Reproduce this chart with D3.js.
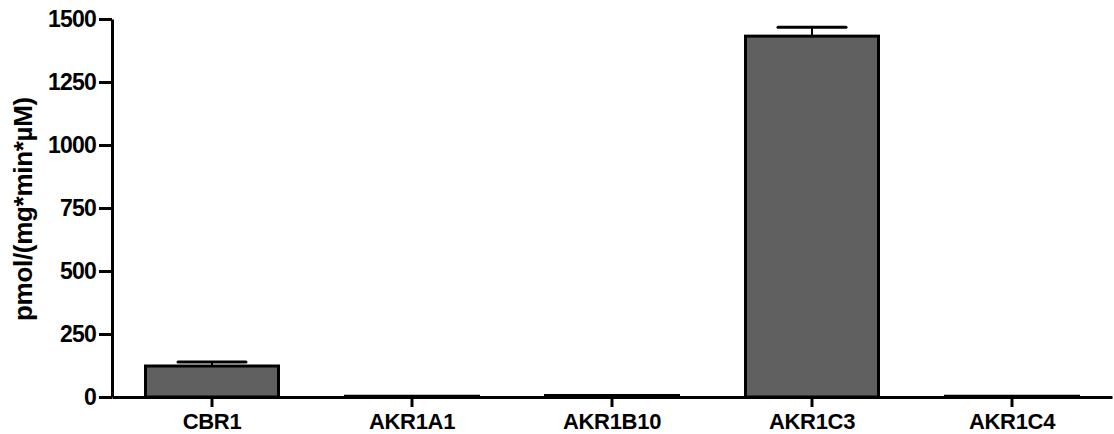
<!DOCTYPE html>
<html>
<head>
<meta charset="utf-8">
<script src="https://cdn.jsdelivr.net/npm/d3@7"></script>
<style>
  body { margin: 0; background: #fff; }
  text { font-family: "Liberation Sans", Arial, sans-serif; font-weight: bold; }
</style>
</head>
<body>
<svg id="chart" width="1114" height="434"></svg>
<script>
// chart data
var enzymes = ["CBR1", "AKR1A1", "AKR1B10", "AKR1C3", "AKR1C4"];
var activity = [123, 3, 6, 1432, 3];
var activityErr = [16, 0, 0, 35, 0];
var yTicks = [0, 250, 500, 750, 1000, 1250, 1500];

var svg = d3.select("#chart");
var width = 1114, height = 434;
var margin = {left: 112, right: 2, top: 19, bottom: 37};

var x = d3.scaleBand()
    .domain(enzymes)
    .range([margin.left, width - margin.right])
    .paddingInner(0.335)
    .paddingOuter(0.1675);

var y = d3.scaleLinear()
    .domain([0, 1500])
    .range([height - margin.bottom, margin.top]);

var rows = enzymes.map(function(name, i) {
    return {name: name, value: activity[i], err: activityErr[i]};
});

// bars
svg.selectAll(".bar")
    .data(rows)
    .enter()
    .append("rect")
    .attr("class", "bar")
    .attr("x", function(d) { return x(d.name); })
    .attr("width", x.bandwidth())
    .attr("y", function(d) { return y(d.value); })
    .attr("height", function(d) { return y(0) - y(d.value); })
    .attr("fill", "#606060")
    .attr("stroke", "#000")
    .attr("stroke-width", 3);

// error bars (upper only)
var errs = svg.selectAll(".err")
    .data(rows.filter(function(d) { return d.err > 0; }))
    .enter()
    .append("g")
    .attr("class", "err");

errs.append("line")
    .attr("x1", function(d) { return x(d.name) + x.bandwidth() / 2; })
    .attr("x2", function(d) { return x(d.name) + x.bandwidth() / 2; })
    .attr("y1", function(d) { return y(d.value); })
    .attr("y2", function(d) { return y(d.value + d.err); })
    .attr("stroke", "#000")
    .attr("stroke-width", 2);

errs.append("line")
    .attr("x1", function(d) { return x(d.name) + x.bandwidth() / 2 - 34; })
    .attr("x2", function(d) { return x(d.name) + x.bandwidth() / 2 + 34; })
    .attr("y1", function(d) { return y(d.value + d.err); })
    .attr("y2", function(d) { return y(d.value + d.err); })
    .attr("stroke", "#000")
    .attr("stroke-width", 3)
    .attr("stroke-linecap", "round");

// y axis
var yAxis = svg.append("g")
    .attr("transform", "translate(" + margin.left + ",0)")
    .call(d3.axisLeft(y).tickValues(yTicks).tickFormat(d3.format("d"))
        .tickSize(13).tickPadding(3).tickSizeOuter(0));

// x axis
var xAxis = svg.append("g")
    .attr("transform", "translate(0," + y(0) + ")")
    .call(d3.axisBottom(x).tickSize(10).tickPadding(6).tickSizeOuter(0));

[yAxis, xAxis].forEach(function(ax) {
    ax.attr("font-family", null).attr("font-size", null);
    ax.select(".domain").attr("stroke", "#000").attr("stroke-width", 3);
    ax.selectAll(".tick line").attr("stroke", "#000").attr("stroke-width", 3);
    ax.selectAll(".tick text")
        .attr("fill", "#000")
        .style("font-family", "'Liberation Sans', Arial, sans-serif")
        .style("font-weight", "bold");
});
yAxis.selectAll(".tick text").style("font-size", "23px").style("letter-spacing", "-0.8px");
xAxis.selectAll(".tick text").style("font-size", "22px").style("letter-spacing", "-0.3px");

// y axis title
svg.append("text")
    .attr("transform", "translate(32," + 209 + ") rotate(-90)")
    .attr("text-anchor", "middle")
    .style("font-size", "26px")
    .style("letter-spacing", "-0.3px")
    .attr("fill", "#000")
    .text("pmol/(mg*min*µM)");
</script>
</body>
</html>
